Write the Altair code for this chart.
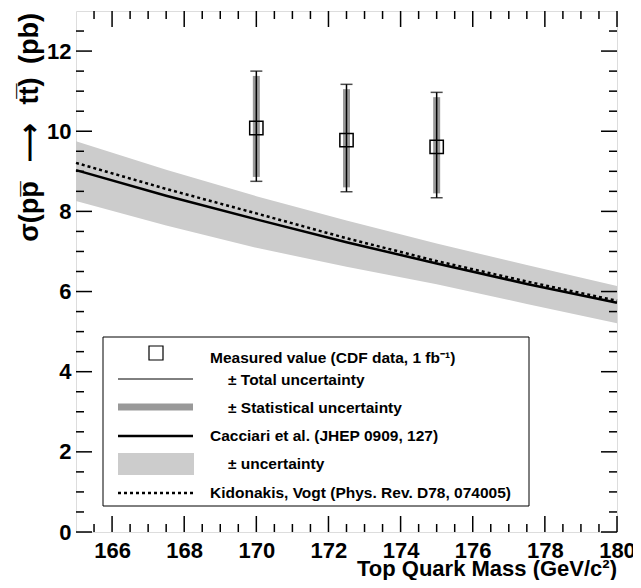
import altair as alt
import pandas as pd

# ---------------- data ----------------
mass_th = [165, 167.5, 170, 172.5, 175, 177.5, 180]
cacciari = [9.03, 8.39, 7.80, 7.23, 6.70, 6.19, 5.72]
cacciari_hi = [9.75, 9.04, 8.38, 7.77, 7.20, 6.66, 6.14]
cacciari_lo = [8.26, 7.65, 7.09, 6.62, 6.18, 5.69, 5.21]
kidonakis = [9.21, 8.56, 7.95, 7.33, 6.76, 6.25, 5.77]

mass_meas = [170.0, 172.5, 175.0]
xsec = [10.08, 9.78, 9.61]
stat_lo = [8.86, 8.60, 8.45]
stat_hi = [11.38, 11.05, 10.85]
tot_lo = [8.75, 8.49, 8.34]
tot_hi = [11.50, 11.17, 10.97]

x_major = [166, 168, 170, 172, 174, 176, 178, 180]
x_minor = [165.5, 166.5, 167, 167.5, 168.5, 169, 169.5, 170.5, 171, 171.5,
           172.5, 173, 173.5, 174.5, 175, 175.5, 176.5, 177, 177.5, 178.5,
           179, 179.5]
y_major = [0, 2, 4, 6, 8, 10, 12]
y_minor = [0.5, 1, 1.5, 2.5, 3, 3.5, 4.5, 5, 5.5, 6.5, 7, 7.5, 8.5, 9, 9.5,
           10.5, 11, 11.5, 12.5]

legend_labels = [
    "Measured value (CDF data, 1 fb\u207b\u00b9)",
    "\u00b1 Total uncertainty",
    "\u00b1 Statistical uncertainty",
    "Cacciari et al. (JHEP 0909, 127)",
    "\u00b1 uncertainty",
    "Kidonakis, Vogt (Phys. Rev. D78, 074005)",
]
x_title = "Top Quark Mass (GeV/c\u00b2)"
y_title = "\u03c3(pp\u0305\u2002\u2009\u27f6\u2002\u2009tt\u0305)\u2002(pb)"

# ---------------- layout / style ----------------
W, H = 541, 521
FONT = "Liberation Sans"
GRAY_BAND = "#cccccc"
GRAY_STAT = "#999999"

theory = pd.DataFrame({"m": mass_th, "cac": cacciari, "hi": cacciari_hi,
                       "lo": cacciari_lo, "kid": kidonakis})
meas = pd.DataFrame({"m": mass_meas, "xs": xsec, "slo": stat_lo, "shi": stat_hi,
                     "tlo": tot_lo, "thi": tot_hi})
one = pd.DataFrame({"d": [0]})

xs = alt.Scale(domain=[165, 180], nice=False, zero=False)
ys = alt.Scale(domain=[0, 13], nice=False, zero=False)

xax = alt.Axis(values=x_major, title=None, ticks=False, domain=False, grid=False,
               labelFont=FONT, labelFontSize=22, labelFontWeight="bold",
               labelColor="black", labelPadding=8, labelFlush=False,
               labelOverlap=False, format="d")
yax = alt.Axis(values=y_major, title=None, ticks=False, domain=False, grid=False,
               labelFont=FONT, labelFontSize=22, labelFontWeight="bold",
               labelColor="black", labelPadding=5, labelFlush=False,
               labelOverlap=False, format="d")


def X(f):
    return alt.X(f, scale=xs, axis=xax)


def Y(f):
    return alt.Y(f, scale=ys, axis=yax)


band = alt.Chart(theory).mark_area(color=GRAY_BAND).encode(
    x=X("m:Q"), y=Y("hi:Q"), y2="lo:Q")
kid_line = alt.Chart(theory).mark_line(color="black", strokeWidth=2.5,
                                       strokeDash=[3, 3]).encode(
    x=X("m:Q"), y=Y("kid:Q"))
cac_line = alt.Chart(theory).mark_line(color="black", strokeWidth=2.5).encode(
    x=X("m:Q"), y=Y("cac:Q"))

stat_bar = alt.Chart(meas).mark_rule(color=GRAY_STAT, strokeWidth=7).encode(
    x=X("m:Q"), y=Y("slo:Q"), y2="shi:Q")
tot_bar = alt.Chart(meas).mark_rule(color="black", strokeWidth=1.5).encode(
    x=X("m:Q"), y=Y("tlo:Q"), y2="thi:Q")
cap_hi = alt.Chart(meas).mark_tick(color="black", orient="horizontal", size=12,
                                   thickness=1.5).encode(x=X("m:Q"), y=Y("thi:Q"))
cap_lo = alt.Chart(meas).mark_tick(color="black", orient="horizontal", size=12,
                                   thickness=1.5).encode(x=X("m:Q"), y=Y("tlo:Q"))
pts = alt.Chart(meas).mark_point(shape="square", filled=False, color="black",
                                 size=177, strokeWidth=1.5, opacity=1).encode(
    x=X("m:Q"), y=Y("xs:Q"))

# inward ticks on all four sides
tick_layers = []
for vals, ln in ((x_major, 16), (x_minor, 8)):
    df = pd.DataFrame({"v": vals})
    tick_layers.append(alt.Chart(df).mark_rule(color="black", strokeWidth=1.5).encode(
        x=X("v:Q"), y=alt.value(H), y2=alt.value(H - ln)))
    tick_layers.append(alt.Chart(df).mark_rule(color="black", strokeWidth=1.5).encode(
        x=X("v:Q"), y=alt.value(0), y2=alt.value(ln)))
for vals, ln in ((y_major, 16), (y_minor, 8)):
    df = pd.DataFrame({"v": vals})
    tick_layers.append(alt.Chart(df).mark_rule(color="black", strokeWidth=1.5).encode(
        y=Y("v:Q"), x=alt.value(0), x2=alt.value(ln)))
    tick_layers.append(alt.Chart(df).mark_rule(color="black", strokeWidth=1.5).encode(
        y=Y("v:Q"), x=alt.value(W), x2=alt.value(W - ln)))

# legend box
leg = [alt.Chart(one).mark_rect(fill="white", stroke="black", strokeWidth=1).encode(
    x=alt.value(27), x2=alt.value(453), y=alt.value(326), y2=alt.value(495))]
lx0, lx1 = 42, 117
leg.append(alt.Chart(one).mark_point(shape="square", filled=False, color="black",
                                     size=196, strokeWidth=1.2, opacity=1).encode(
    x=alt.value(80), y=alt.value(342)))
leg.append(alt.Chart(one).mark_rule(color="black", strokeWidth=1).encode(
    x=alt.value(lx0), x2=alt.value(lx1), y=alt.value(368)))
leg.append(alt.Chart(one).mark_rule(color=GRAY_STAT, strokeWidth=7).encode(
    x=alt.value(lx0), x2=alt.value(lx1), y=alt.value(396)))
leg.append(alt.Chart(one).mark_rule(color="black", strokeWidth=2.5).encode(
    x=alt.value(lx0), x2=alt.value(lx1), y=alt.value(425)))
leg.append(alt.Chart(one).mark_rect(color=GRAY_BAND).encode(
    x=alt.value(lx0), x2=alt.value(lx1 + 1), y=alt.value(442), y2=alt.value(464)))
leg.append(alt.Chart(one).mark_rule(color="black", strokeWidth=2.5,
                                    strokeDash=[3, 3]).encode(
    x=alt.value(lx0), x2=alt.value(lx1), y=alt.value(482)))

text_pos = [(134, 347), (152, 369), (152, 397), (134, 425), (152, 453), (134, 482)]
for lab, (tx, ty) in zip(legend_labels, text_pos):
    leg.append(alt.Chart(one).mark_text(align="left", baseline="middle", font=FONT,
                                        fontWeight="bold", fontSize=15.5,
                                        color="black").encode(
        x=alt.value(tx), y=alt.value(ty), text=alt.value(lab)))

titles = [
    alt.Chart(one).mark_text(align="right", baseline="alphabetic", font=FONT,
                             fontWeight="bold", fontSize=22, color="black").encode(
        x=alt.value(W), y=alt.value(565), text=alt.value(x_title)),
    alt.Chart(one).mark_text(align="right", baseline="middle", font=FONT,
                             fontWeight="bold", fontSize=27, angle=270,
                             color="black").encode(
        x=alt.value(-46), y=alt.value(2), text=alt.value(y_title)),
]

chart = alt.layer(band, kid_line, cac_line, stat_bar, tot_bar, cap_hi, cap_lo, pts,
                  *tick_layers, *leg, *titles).properties(
    width=W, height=H,
    autosize=alt.AutoSizeParams(type="none"),
    padding={"left": 68, "top": 3, "right": 16, "bottom": 48},
).configure_view(stroke="black", strokeWidth=2).configure(background="white")

chart.save("out.html", embed_options={"renderer": "svg", "actions": False})
